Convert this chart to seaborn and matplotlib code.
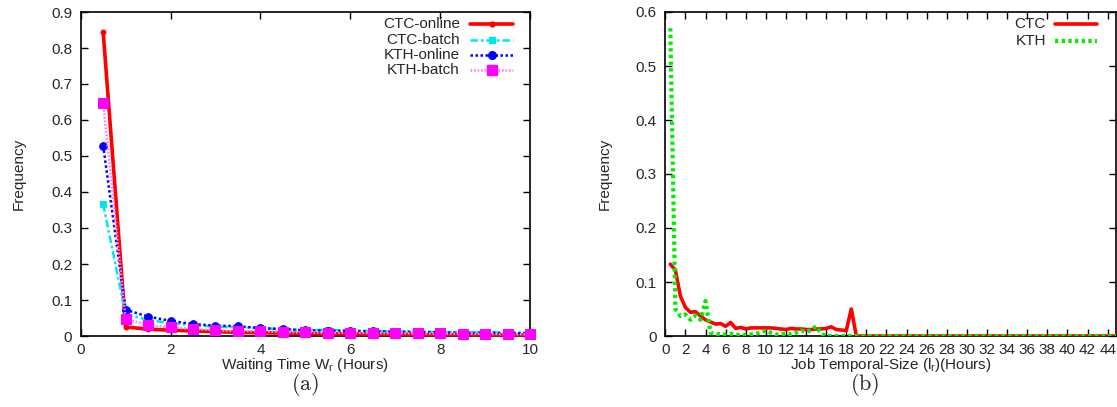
import numpy as np
import pandas as pd
import matplotlib
matplotlib.use("Agg")
import matplotlib.pyplot as plt
import seaborn as sns
from matplotlib.lines import Line2D

# ---------------- data (a) ----------------
wait_hours = [0.5, 1.0, 1.5, 2.0, 2.5, 3.0, 3.5, 4.0, 4.5, 5.0,
              5.5, 6.0, 6.5, 7.0, 7.5, 8.0, 8.5, 9.0, 9.5, 10.0]
ctc_online = [0.845, 0.025, 0.019, 0.016, 0.014, 0.012, 0.010, 0.009, 0.008, 0.007,
              0.006, 0.006, 0.005, 0.005, 0.004, 0.004, 0.004, 0.003, 0.003, 0.003]
ctc_batch = [0.366, 0.060, 0.045, 0.035, 0.030, 0.026, 0.024, 0.022, 0.019, 0.017,
             0.017, 0.015, 0.014, 0.013, 0.012, 0.011, 0.011, 0.010, 0.010, 0.009]
kth_online = [0.529, 0.073, 0.054, 0.042, 0.033, 0.029, 0.027, 0.022, 0.019, 0.016,
              0.015, 0.014, 0.013, 0.012, 0.011, 0.010, 0.009, 0.009, 0.008, 0.008]
kth_batch = [0.647, 0.047, 0.030, 0.024, 0.020, 0.016, 0.013, 0.014, 0.011, 0.010,
             0.009, 0.009, 0.008, 0.008, 0.007, 0.007, 0.006, 0.006, 0.005, 0.005]

# ---------------- data (b) ----------------
size_hours = np.arange(0.5, 45.01, 0.5)
ctc_size = [0.133, 0.122, 0.074, 0.053, 0.044, 0.045, 0.037, 0.030, 0.026, 0.022,
            0.023, 0.018, 0.025, 0.014, 0.016, 0.013, 0.015, 0.015, 0.015, 0.015,
            0.015, 0.014, 0.013, 0.012, 0.014, 0.013, 0.013, 0.012, 0.012, 0.013,
            0.013, 0.014, 0.017, 0.012, 0.011, 0.010, 0.050, 0.0, 0.0, 0.0,
            0.0, 0.0, 0.0, 0.0, 0.0, 0.0, 0.0, 0.0, 0.0, 0.0,
            0.0, 0.0, 0.0, 0.0, 0.0, 0.0, 0.0, 0.0, 0.0, 0.0,
            0.0, 0.0, 0.0, 0.0, 0.0, 0.0, 0.0, 0.0, 0.0, 0.0,
            0.0, 0.0, 0.0, 0.0, 0.0, 0.0, 0.0, 0.0, 0.0, 0.0,
            0.0, 0.0, 0.0, 0.0, 0.0, 0.0, 0.0, 0.0, 0.0, 0.0]
kth_size = [0.570, 0.050, 0.037, 0.040, 0.030, 0.038, 0.030, 0.065, 0.006, 0.004,
            0.003, 0.003, 0.004, 0.002, 0.003, 0.002, 0.003, 0.004, 0.007, 0.010,
            0.006, 0.003, 0.003, 0.004, 0.003, 0.006, 0.010, 0.008, 0.011, 0.018,
            0.004, 0.0, 0.0, 0.0, 0.0, 0.0, 0.0, 0.0, 0.0, 0.0,
            0.0, 0.0, 0.0, 0.0, 0.0, 0.0, 0.0, 0.0, 0.0, 0.0,
            0.0, 0.0, 0.0, 0.0, 0.0, 0.0, 0.0, 0.0, 0.0, 0.0,
            0.0, 0.0, 0.0, 0.0, 0.0, 0.0, 0.0, 0.0, 0.0, 0.0,
            0.0, 0.0, 0.0, 0.0, 0.0, 0.0, 0.0, 0.0, 0.0, 0.0,
            0.0, 0.0, 0.0, 0.0, 0.0, 0.0, 0.0, 0.0, 0.0, 0.0]

sns.set_style("ticks")
plt.rcParams['font.family'] = ['Liberation Sans', 'DejaVu Sans']
plt.rcParams['mathtext.fontset'] = 'custom'
plt.rcParams['mathtext.rm'] = 'Liberation Sans'
plt.rcParams['mathtext.it'] = 'Liberation Sans'

W, H = 1117, 407
fig = plt.figure(figsize=(W / 100, H / 100), dpi=100)

def box(x0, x1, ytop, ybot):
    return [x0 / W, 1 - ybot / H, (x1 - x0) / W, (ybot - ytop) / H]

def fx(px):
    return px / W

def fy(py):
    return 1 - py / H

ax1 = fig.add_axes(box(80.7, 530, 12, 336))
ax2 = fig.add_axes(box(665.3, 1115.7, 12, 336))

FS = 11

def legend_entry(text, x_text_right, x_h0, x_h1, y, color, lw, ls, marker=None, ms=0, mfc=None):
    fig.text(fx(x_text_right), fy(y), text, ha="right", va="center", fontsize=FS)
    fig.add_artist(Line2D([fx(x_h0), fx(x_h1)], [fy(y), fy(y)], color=color, lw=lw, ls=ls,
                          transform=fig.transFigure))
    if marker:
        fig.add_artist(Line2D([fx((x_h0 + x_h1) / 2)], [fy(y)], color=mfc, marker=marker, ms=ms,
                              mfc=mfc, mec=mfc, ls="none", transform=fig.transFigure))

# ---- panel (a)
styles_a = [
    ("CTC-online", ctc_online, dict(color="#ff0000", lw=2.6, ls="-", marker="o", ms=3.5)),
    ("CTC-batch", ctc_batch, dict(color="#00e5ee", lw=1.8, ls=(0, (3, 1.2, 1, 1.2)), marker="s", ms=4.5)),
    ("KTH-online", kth_online, dict(color="#0000ff", lw=1.8, ls=(0, (1, 1)), marker="o", ms=5.5)),
    ("KTH-batch", kth_batch, dict(color="#ff00ff", lw=1.8, ls=(0, (0.7, 0.7)), marker="s", ms=7.5)),
]
leg_rows_a = [24, 40, 55, 70]
for (name, vals, st), yrow in zip(styles_a, leg_rows_a):
    df = pd.DataFrame({"x": wait_hours, "y": vals})
    mfc = st["color"]
    lc = st["color"] if name != "KTH-batch" else "#ff80ff"
    sns.lineplot(data=df, x="x", y="y", ax=ax1, color=lc, linewidth=st["lw"],
                 linestyle=st["ls"], marker=st["marker"], markersize=st["ms"],
                 markerfacecolor=mfc, markeredgecolor=mfc, clip_on=False, zorder=3)
    legend_entry(name, 460, 470, 513, yrow, lc, st["lw"], st["ls"], st["marker"], st["ms"], mfc)

ax1.set_xlim(0, 10)
ax1.set_ylim(0, 0.9)
ax1.set_xticks([0, 2, 4, 6, 8, 10])
ax1.set_xticklabels(["0", "2", "4", "6", "8", "10"])
ax1.set_yticks(np.arange(0, 0.91, 0.1))
ax1.set_yticklabels(["0", "0.1", "0.2", "0.3", "0.4", "0.5", "0.6", "0.7", "0.8", "0.9"])
ax1.set_xlabel(r"Waiting Time W$_\mathrm{r}$ (Hours)", fontsize=FS, labelpad=-1)
ax1.set_ylabel("Frequency", fontsize=FS, labelpad=18)

# ---- panel (b)
df_b = pd.DataFrame({"x": size_hours, "CTC": ctc_size, "KTH": kth_size})
sns.lineplot(data=df_b, x="x", y="CTC", ax=ax2, color="#ff0000", linewidth=2.6, zorder=3)
sns.lineplot(data=df_b, x="x", y="KTH", ax=ax2, color="#00ee00", linewidth=3.0,
             linestyle=(0, (0.8, 0.8)), zorder=4)
legend_entry("CTC", 1046, 1055, 1097, 24, "#ff0000", 2.6, "-")
legend_entry("KTH", 1046, 1055, 1097, 41, "#00ee00", 3.0, (0, (0.8, 0.8)))

ax2.set_xlim(0, 44.8)
ax2.set_ylim(0, 0.6)
ax2.set_xticks(np.arange(0, 45, 2))
ax2.set_xticklabels([str(v) for v in range(0, 45, 2)])
ax2.set_yticks(np.arange(0, 0.61, 0.1))
ax2.set_yticklabels(["0", "0.1", "0.2", "0.3", "0.4", "0.5", "0.6"])
ax2.set_xlabel(r"Job Temporal-Size (l$_\mathrm{r}$)(Hours)", fontsize=FS, labelpad=-1)
ax2.set_ylabel("Frequency", fontsize=FS, labelpad=17)

for ax in (ax1, ax2):
    ax.tick_params(direction="in", top=True, right=True, length=5, width=1,
                   labelsize=FS, pad=6, color="black")
    ax.tick_params(axis="x", pad=5)
    for sp in ax.spines.values():
        sp.set_linewidth(1.2)
        sp.set_color("black")
        sp.set_visible(True)
    ax.set_facecolor("white")
    leg = ax.get_legend()
    if leg is not None:
        leg.remove()

fig.text(305 / W, 1 - 385 / H, r"$\mathrm{(a)}$", ha="center", va="center",
         fontsize=16, math_fontfamily="cm")
fig.text(865 / W, 1 - 385 / H, r"$\mathrm{(b)}$", ha="center", va="center",
         fontsize=16, math_fontfamily="cm")

fig.savefig("out.png", dpi=100, facecolor="white")
